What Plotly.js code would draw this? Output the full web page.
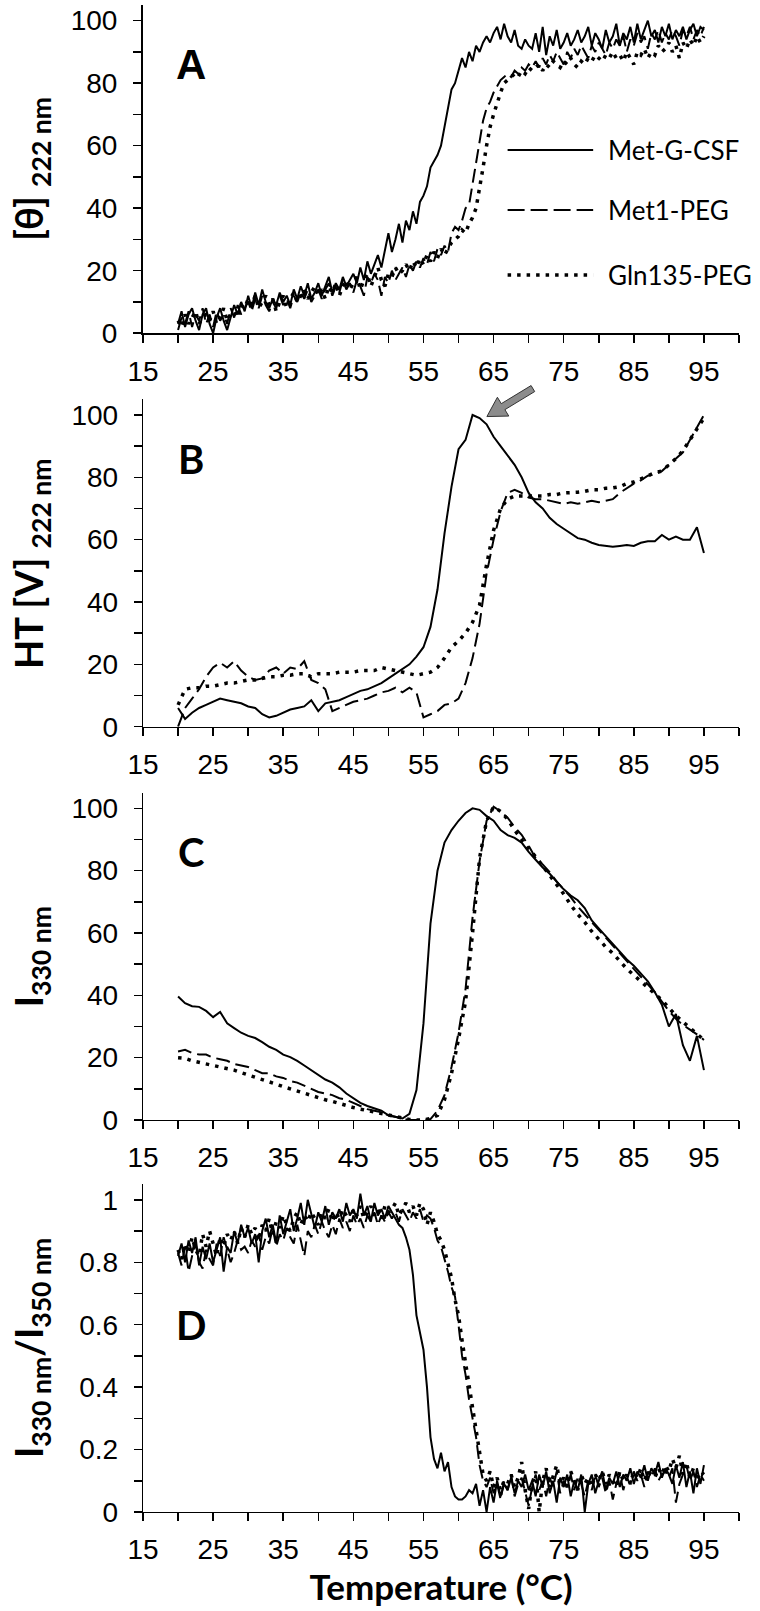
<!DOCTYPE html>
<html>
<head>
<meta charset="utf-8">
<script src="https://cdn.plot.ly/plotly-3.0.1.min.js"></script>
<style>html,body{margin:0;padding:0;background:#fff;}#chart{width:760px;height:1611px;}</style>
</head>
<body>
<div id="chart"></div>
<script>
// ---------- DATA ----------
const seriesNames = ["Met-G-CSF", "Met1-PEG", "Gln135-PEG"];
const panelLetters = ["A", "B", "C", "D"];
const xTitle = "Temperature (°C)";
const yTitles = ["[θ] <sub>222 nm</sub>", "HT [V] <sub>222 nm</sub>", "I<sub>330 nm</sub>", "I<sub>330 nm</sub>/I<sub>350 nm</sub>"];

// temperature grid, 0.5 °C (panels A and D)
const tempFine = [20,20.5,21,21.5,22,22.5,23,23.5,24,24.5,25,25.5,26,26.5,27,27.5,28,28.5,29,29.5,30,30.5,31,31.5,32,32.5,33,33.5,34,34.5,35,35.5,36,36.5,37,37.5,38,38.5,39,39.5,40,40.5,41,41.5,42,42.5,43,43.5,44,44.5,45,45.5,46,46.5,47,47.5,48,48.5,49,49.5,50,50.5,51,51.5,52,52.5,53,53.5,54,54.5,55,55.5,56,56.5,57,57.5,58,58.5,59,59.5,60,60.5,61,61.5,62,62.5,63,63.5,64,64.5,65,65.5,66,66.5,67,67.5,68,68.5,69,69.5,70,70.5,71,71.5,72,72.5,73,73.5,74,74.5,75,75.5,76,76.5,77,77.5,78,78.5,79,79.5,80,80.5,81,81.5,82,82.5,83,83.5,84,84.5,85,85.5,86,86.5,87,87.5,88,88.5,89,89.5,90,90.5,91,91.5,92,92.5,93,93.5,94,94.5,95];
// temperature grid, 1 °C (panels B and C)
const tempCoarse = [20,21,22,23,24,25,26,27,28,29,30,31,32,33,34,35,36,37,38,39,40,41,42,43,44,45,46,47,48,49,50,51,52,53,54,55,56,57,58,59,60,61,62,63,64,65,66,67,68,69,70,71,72,73,74,75,76,77,78,79,80,81,82,83,84,85,86,87,88,89,90,91,92,93,94,95];

// Panel A: [θ]222nm
const cdMet = [3,7,2,6,8,4,1,6,8,3,0,5,8,4,1,5,9,6,10,7,12,
  8,13,9,14,10,8,11,9,13,10,12,9,14,11,15,12,16,11,13,16,
  12,15,18,13,16,14,18,15,17,19,16,21,17,23,19,22,
  25,21,27,32,26,30,35,29,36,33,39,35,42,44,
  47,53,55,57,60,66,72,78,80,84,88,85,90,87,92,90,93,95,93,96,98,94,99,95,93,97,92,91,94,92,
  91,96,90,98,89,95,92,97,91,93,96,92,94,97,93,95,98,92,96,94,91,97,93,95,99,92,96,94,98,93,99,94,97,100,95,97,93,98,95,99,94,97,95,98,94,97,99,95,98,97];
const cdMet1 = [1,5,3,7,2,6,4,8,3,6,2,7,4,6,3,8,5,9,6,8,10,
  7,11,8,12,9,7,10,8,12,9,11,8,12,10,13,11,14,10,12,14,
  11,14,16,12,15,13,17,14,16,13,17,15,12,18,16,19,
  17,12,18,16,20,17,19,21,18,22,20,23,21,24,
  22,26,23,27,25,28,26,32,34,33,36,40,41,48,55,62,68,72,74,77,79,81,82,83,82,84,83,85,84,86,
  85,87,85,88,86,89,87,90,88,86,90,88,91,89,92,90,88,92,90,93,91,89,93,91,94,92,95,90,94,92,96,93,95,91,96,94,97,93,96,94,97,95,92,97,95,98,94,97,95,98];
const cdGln135 = [4,2,6,3,5,7,3,5,6,4,7,3,5,8,4,6,7,5,9,8,11,
  9,12,8,10,12,9,11,7,10,12,8,11,13,10,12,14,11,13,15,12,
  14,11,15,13,16,12,15,17,14,16,18,14,17,19,15,18,
  21,17,15,19,18,21,19,20,22,20,23,21,24,22,
  25,23,26,24,27,25,27,29,30,31,33,32,35,37,40,46,53,60,66,70,74,77,80,81,82,83,82,84,83,85,
  84,85,86,84,86,85,87,86,85,87,86,88,86,85,87,86,88,87,89,88,87,89,88,90,88,89,87,90,88,86,90,89,91,88,90,89,92,90,91,93,90,92,88,93,91,94,92,95,93,95];

// Panel B: HT [V] 222nm
const htMet = [6,2.5,4.5,6,7,8,9,8.5,8,7.5,
  6.5,6,4,3,3.5,4.5,5.5,6,6.5,8.5,
  5,7.5,8,8.5,9.5,10.5,11.5,12,13,14,
  15.5,17,18.5,20,22.5,25.5,32,44,62,77,
  89,92,100,99,97,93,90,87,84,80,
  75,72,70,67,65,63.5,62,60.5,60,59,
  58.3,58,57.7,58,58.3,58,59,59.5,59.5,61.5,
  60,61,60,60,64,55.7];
const htMet1 = [0,6,9,12,16,19,20.5,19,21,18,
  16,15,15.5,18,19,17,19,18.5,21,15,
  14,12,5,6,7,8,8.5,9,10,11,
  11.5,12.5,11,12.5,11,3,4,5,7,7.5,
  9,14,22,33,49,60,69,75,76,75,
  73.5,73,73,72.5,72,71.5,72,71.5,72,72.5,
  72,72.5,73,75,76.5,78,79,80.5,81,82,
  84,86,88,92,96,100];
const htGln135 = [7,12,12.5,12.5,13,13,13.5,14,14,14.5,
  15,15,15.5,16,16,16.5,16.5,17,17,16,
  17,17,17,17.5,17.5,17.5,18,18,18,19,
  18.5,18,17.5,17,16.5,17,17.5,19,22,25.5,
  27.5,30,33.5,39,52,63,70,73,74,74,
  74,74,74,74.5,74.5,75,75,75.2,75.5,76,
  76,76.5,76.6,77,78,78.5,79.5,80.5,81.5,82,
  84,86,88.5,92,95.5,99];

// Panel C: I330nm
const flMet = [39.6,37.5,36.5,36.3,35,33,34.7,31,29.5,28,
  27,26.3,25,23.5,22.5,21,20.2,19,17.5,16,
  14.5,13,12,10.5,8.5,7,5.5,4.5,3.8,3,
  1.5,1,0.5,2,9.6,31,63,80,89,93,
  96,98.5,100,99.5,97.5,96,93,91.4,90.5,89,
  86,83.5,81,79,76.5,74,72,70.5,68,64,
  61.5,59,56.6,54,51.5,49.5,47,44.5,41,37,
  30,34,24,19,27,16];
const flMet1 = [22,22.5,21.5,21,21,20,19.5,19,18,17.6,
  17,16,15,15,14,13.5,12.5,12,11,10,
  9,8.5,8,7,6.5,5.5,4.5,3.5,3,2.5,
  1.5,1,0.5,0,0,0,0.3,3,8,17,
  28,42,65,83,96,100.5,99,97,94,91.5,
  88,84,82,79.5,76.5,74,71.5,68.5,66,63.5,
  61,58.5,56,53.5,51,48.5,46,43.5,41,38,
  35,32.5,30.5,29,27.5,25.7];
const flGln135 = [20,19.8,19,18.5,18,17.5,17,16.5,16,15.2,
  14.5,13.8,13,12.3,11.5,10.7,10,9.3,8.5,8,
  7.2,6.5,6,5.3,4.7,4,3.5,3,2.5,2,
  1.5,1,0.5,0.2,0,0,0.5,1.5,6.5,15,
  26,38,60,84,96,100.5,99,96.5,93,90,
  87,84.5,81.5,78.5,75.5,72.5,69,66,63.5,60.5,
  58,55.5,53.5,51,48.5,46.5,44.5,42.5,40.5,38.5,
  36,33.5,31.5,29.5,27.5,25.7];

// Panel D: I330nm/I350nm
const ratioMet = [0.82,0.86,0.80,0.87,0.83,0.88,0.79,0.85,0.81,0.86,0.80,0.84,0.88,0.77,0.85,0.83,0.90,0.86,0.92,0.88,0.91,
  0.86,0.89,0.80,0.90,0.94,0.88,0.92,0.86,0.95,0.89,0.93,0.97,0.90,0.94,0.99,0.92,1.0,0.95,0.91,0.96,
  0.93,0.98,0.92,0.96,0.94,0.97,0.93,0.99,0.95,0.97,0.94,1.02,0.95,0.98,0.93,0.99,0.95,0.97,0.94,0.98,
  0.96,0.94,0.92,0.91,0.88,0.84,0.76,0.63,0.58,0.52,0.40,0.24,0.17,0.14,0.19,0.13,0.16,0.08,0.05,0.04,
  0.04,0.05,0.07,0.06,0.09,0.02,0.07,0.0,0.08,0.03,0.10,0.05,0.09,0.07,0.11,0.06,0.10,0.08,0.12,0.07,
  0.10,0.05,0.12,0.08,0.13,0.06,0.10,0.03,0.11,0.08,0.12,0.05,0.10,0.07,0.12,0.0,0.09,0.12,0.06,0.10,
  0.13,0.07,0.11,0.09,0.13,0.08,0.12,0.10,0.14,0.09,0.13,0.11,0.15,0.10,0.14,0.12,0.16,0.11,0.14,0.12,
  0.09,0.15,0.11,0.16,0.08,0.13,0.06,0.14,0.09,0.15];
const ratioMet1 = [0.83,0.79,0.85,0.77,0.82,0.86,0.80,0.78,0.84,0.81,0.79,0.86,0.82,0.88,0.84,0.80,0.83,0.87,0.84,0.85,0.83,
  0.87,0.85,0.89,0.84,0.88,0.86,0.91,0.85,0.89,0.87,0.91,0.88,0.86,0.92,0.87,0.82,0.90,0.88,0.92,0.89,
  0.93,0.90,0.88,0.92,0.89,0.94,0.91,0.93,0.90,0.95,0.92,0.94,0.91,0.95,0.93,0.96,0.92,0.95,0.93,0.96,
  0.94,0.96,0.93,0.97,0.95,0.93,0.96,0.94,0.97,0.93,0.95,0.94,0.91,0.87,0.85,0.81,0.77,0.72,0.69,0.60,
  0.50,0.44,0.36,0.30,0.24,0.15,0.10,0.08,0.11,0.06,0.09,0.04,0.10,0.07,0.12,0.05,0.09,0.11,0.06,0.02,
  0.08,0.12,0.07,0.10,0.05,0.11,0.08,0.13,0.06,0.10,0.08,0.12,0.07,0.11,0.09,0.05,0.10,0.07,0.12,0.08,
  0.11,0.06,0.10,0.04,0.09,0.12,0.07,0.11,0.09,0.13,0.10,0.12,0.08,0.13,0.11,0.14,0.10,0.12,0.13,0.11,
  0.14,0.03,0.09,0.12,0.15,0.10,0.13,0.08,0.12,0.10];
const ratioGln135 = [0.84,0.81,0.86,0.83,0.88,0.84,0.82,0.89,0.85,0.90,0.86,0.82,0.88,0.85,0.89,0.87,0.90,0.86,0.91,0.88,0.92,
  0.89,0.91,0.87,0.92,0.90,0.94,0.89,0.93,0.91,0.95,0.92,0.90,0.94,0.96,0.92,0.95,0.93,0.96,0.94,0.92,
  0.96,0.94,0.97,0.93,0.96,0.94,0.97,0.95,0.93,0.97,0.95,0.98,0.94,0.96,0.98,0.95,0.97,0.94,0.98,0.96,
  0.97,0.99,0.95,0.97,0.99,0.96,0.98,0.95,0.99,0.97,0.92,0.96,0.93,0.89,0.87,0.84,0.79,0.75,0.68,0.63,
  0.55,0.48,0.40,0.33,0.27,0.20,0.12,0.10,0.13,0.08,0.11,0.07,0.10,0.09,0.12,0.08,0.11,0.16,0.07,0.01,
  0.09,0.13,0.0,0.10,0.14,0.08,0.12,0.15,0.09,0.11,0.08,0.13,0.10,0.07,0.12,0.09,0.11,0.08,0.12,0.10,
  0.13,0.09,0.12,0.10,0.08,0.13,0.10,0.12,0.09,0.13,0.11,0.14,0.10,0.13,0.12,0.11,0.14,0.12,0.15,0.13,
  0.17,0.14,0.18,0.12,0.16,0.11,0.14,0.10,0.13,0.12];

// ---------- STYLES ----------
const lineStyles = [
  {color: "#000", width: 2},
  {color: "#000", width: 2, dash: "14px,6px"},
  {color: "#000", width: 3.5, dash: "3.5px,6px"}
];
const tickFont = {family: "Liberation Sans, Arial, sans-serif", size: 28, color: "#000"};
const boldFont = (sz) => ({family: "Lato, Open Sans, sans-serif", size: sz, color: "#000", weight: "bold"});

const panels = [
  {x: tempFine, ys: [cdMet, cdMet1, cdGln135]},
  {x: tempCoarse, ys: [htMet, htMet1, htGln135]},
  {x: tempCoarse, ys: [flMet, flMet1, flGln135]},
  {x: tempFine, ys: [ratioMet, ratioMet1, ratioGln135]}
];

const traces = [];
panels.forEach((p, i) => {
  const sfx = i === 0 ? "" : String(i + 1);
  p.ys.forEach((y, k) => {
    traces.push({
      type: "scatter", mode: "lines", x: p.x, y: y, name: seriesNames[k],
      xaxis: "x" + sfx, yaxis: "y" + sfx, line: lineStyles[k], showlegend: false, hoverinfo: "skip"
    });
  });
});

// ---------- LAYOUT ----------
const domains = [[0.7822, 1.0], [0.5211, 0.7383], [0.2601, 0.4773], [0.0, 0.2175]];
const lineW = [2, 1.2, 1.2, 1.2];
const layout = {
  width: 760, height: 1611,
  margin: {l: 143, r: 21, t: 5, b: 99},
  paper_bgcolor: "#fff", plot_bgcolor: "#fff",
  showlegend: false,
  annotations: [], shapes: []
};
panels.forEach((p, i) => {
  const sfx = i === 0 ? "" : String(i + 1);
  const isD = i === 3;
  const xa = {
    anchor: "y" + sfx, domain: [0, 1], range: [15, 100],
    tickmode: "linear", tick0: 15, dtick: 10,
    ticks: "outside", ticklen: 8, tickwidth: 1.5, tickcolor: "#000",
    minor: {tick0: 15, dtick: 5, ticks: "outside", ticklen: 8, tickwidth: 1.5, tickcolor: "#000", showgrid: false},
    showline: true, linecolor: "#000", linewidth: lineW[i],
    showgrid: false, zeroline: false, tickfont: tickFont, ticklabelstandoff: 4,
    fixedrange: true
  };
  if (isD) xa.title = {text: xTitle, font: boldFont(35), standoff: 2};
  layout["xaxis" + sfx] = xa;
  layout["yaxis" + sfx] = {
    anchor: "x" + sfx, domain: domains[i],
    range: isD ? [0, 1.05] : [0, 105],
    tickmode: "linear", tick0: 0, dtick: isD ? 0.2 : 20,
    ticks: "outside", ticklen: 8, tickwidth: 1.5, tickcolor: "#000",
    minor: {tick0: 0, dtick: isD ? 0.1 : 10, ticks: "outside", ticklen: 8, tickwidth: 1.5, tickcolor: "#000", showgrid: false},
    showline: true, linecolor: "#000", linewidth: lineW[i],
    showgrid: false, zeroline: false, tickfont: tickFont, ticklabelstandoff: 10,
    fixedrange: true
  };
  // y-axis title (placed next to the axis)
  layout.annotations.push({
    xref: "paper", yref: "y" + sfx + " domain", x: -0.235, y: 0.5,
    text: yTitles[i], textangle: -90, showarrow: false, xanchor: "left", yanchor: "middle",
    font: boldFont(38)
  });
  // panel letter
  layout.annotations.push({
    xref: "x" + sfx, yref: "y" + sfx, x: 21.8, y: isD ? 0.6 : 86,
    text: panelLetters[i], showarrow: false, xanchor: "center", yanchor: "middle",
    font: i === 0 ? {family: "Liberation Sans, Arial, sans-serif", size: 42, color: "#000", weight: "bold"} : boldFont(40)
  });
});

// legend (inside panel A)
const legendY = [58.6, 39.4, 18.6];
seriesNames.forEach((n, k) => {
  layout.shapes.push({type: "line", xref: "x", yref: "y", x0: 67, x1: 79.2, y0: legendY[k], y1: legendY[k],
    line: {color: "#000", width: lineStyles[k].width, dash: k === 0 ? "solid" : (k === 1 ? "17px,6px" : "3.5px,6px")}});
  layout.annotations.push({xref: "x", yref: "y", x: 81.1, y: legendY[k], text: n, showarrow: false,
    xanchor: "left", yanchor: "middle", font: {family: "Lato, Open Sans, sans-serif", size: 26, color: "#000"}});
});

// arrow in panel B pointing at the Met-G-CSF maximum (paper-referenced so it is not clipped above the axis top)
layout.shapes.push({type: "path", xref: "paper", yref: "paper", xsizemode: "pixel", ysizemode: "pixel",
  xanchor: 0.5770, yanchor: 0.7269,
  path: "M0,0 L10.5,19.3 L14.4,12.9 L44.2,31.0 L47.8,25.0 L18.0,6.9 L21.9,0.5 Z",
  fillcolor: "#8c8c8c", line: {color: "#333", width: 1}});

Plotly.newPlot("chart", traces, layout, {displayModeBar: false, staticPlot: true});
</script>
</body>
</html>
